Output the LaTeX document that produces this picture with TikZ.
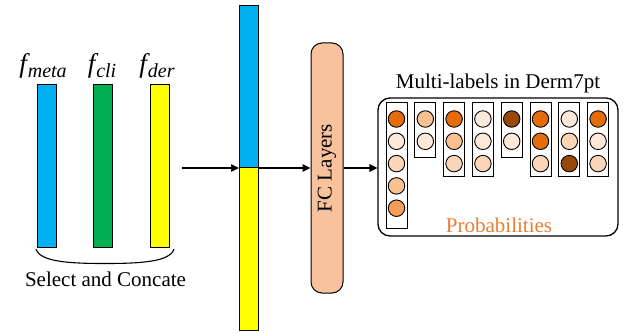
\documentclass[tikz,border=0pt]{standalone}
\usepackage{fontspec}
\setmainfont{Liberation Serif}
\usetikzlibrary{arrows.meta}
\definecolor{cblue}{HTML}{00B0F0}
\definecolor{cgreen}{HTML}{00B050}
\definecolor{cyellow}{HTML}{FFFF00}
\definecolor{cpeach}{HTML}{F7C29C}
\definecolor{corange}{HTML}{ED7D31}
\definecolor{dk}{HTML}{E46C0A}
\definecolor{br}{HTML}{984807}
\definecolor{vl}{HTML}{FDE9D9}
\definecolor{lt}{HTML}{FBD5B5}
\definecolor{lm}{HTML}{FAC090}
\definecolor{md}{HTML}{F59D56}
\newcommand{\feat}[1]{\fontsize{27}{28}\selectfont\itshape f\kern1pt\raisebox{-4.5pt}{\fontsize{20}{22}\selectfont #1}}
\tikzset{
  bar/.style={draw=black, line width=1pt, minimum width=19pt, inner sep=0pt, outer sep=0pt},
  colbox/.style={draw=black, line width=1pt, minimum width=21pt, inner sep=0pt, outer sep=0pt, anchor=north},
  prob/.style={circle, draw=black, line width=0.9pt, minimum size=16.5pt, inner sep=0pt},
  arr/.style={line width=1.4pt, -{Triangle[length=8pt,width=7.5pt]}},
  lbl/.style={font=\fontsize{21}{24}\selectfont, inner sep=0pt},
}
\begin{document}
\begin{tikzpicture}[x=1pt,y=-1pt]
\useasboundingbox (0,0) rectangle (632,334);
% input feature bars
\node[bar, fill=cblue, minimum height=162pt] (meta) at (46.5,166) {};
\node[bar, fill=cgreen, minimum height=162pt] (cli) at (103,166) {};
\node[bar, fill=cyellow, minimum height=162pt] (der) at (159.5,166) {};
\node[lbl, anchor=base] (lmeta) at (43,73) {\feat{meta}};
\node[lbl, anchor=base] (lcli) at (102,73) {\feat{cli}};
\node[lbl, anchor=base] (lder) at (157,73) {\feat{der}};
% brace
\draw[line width=1.1pt] (36,249) .. controls (40,262) and (70,263.5) .. (105,263.5) .. controls (140,263.5) and (170,262) .. (174,249);
\node[lbl, anchor=base] (sel) at (105.5,286) {Select and Concate};
% concatenated bar
\node[bar, fill=cblue, minimum height=162pt] (catA) at (248.5,87) {};
\node[bar, fill=cyellow, minimum height=162pt] (catB) at (248.5,249) {};
% FC layers
\node[draw=black, line width=1pt, fill=cpeach, rounded corners=11pt, minimum width=32pt, minimum height=250pt, inner sep=0pt] (fc) at (327,168) {};
\node[lbl, rotate=90] (fctext) at (fc.center) {FC Layers};
% output box
\node[draw=black, line width=1.3pt, rounded corners=12pt, minimum width=240pt, minimum height=138pt, inner sep=0pt] (box) at (498,167) {};
\node[lbl, anchor=base] (title) at (498,89) {Multi-labels in Derm7pt};
\node[lbl, anchor=base, text=corange] (probtxt) at (499,232) {Probabilities};
% columns
\node[colbox, minimum height=125pt] (k1) at (396.5,103) {};
\node[colbox, minimum height=55pt] (k2) at (425.3,103) {};
\node[colbox, minimum height=74pt] (k3) at (454.1,103) {};
\node[colbox, minimum height=74pt] (k4) at (482.9,103) {};
\node[colbox, minimum height=55pt] (k5) at (511.7,103) {};
\node[colbox, minimum height=74pt] (k6) at (540.5,103) {};
\node[colbox, minimum height=74pt] (k7) at (569.3,103) {};
\node[colbox, minimum height=74pt] (k8) at (598.1,103) {};
% circles
\node[prob, fill=dk] (p11) at (396.5,119) {};
\node[prob, fill=vl] (p12) at (396.5,141.3) {};
\node[prob, fill=lt] (p13) at (396.5,163.6) {};
\node[prob, fill=lm] (p14) at (396.5,185.9) {};
\node[prob, fill=md] (p15) at (396.5,208.2) {};
\node[prob, fill=lm] (p21) at (425.3,119) {};
\node[prob, fill=vl] (p22) at (425.3,141.3) {};
\node[prob, fill=dk] (p31) at (454.1,119) {};
\node[prob, fill=lm] (p32) at (454.1,141.3) {};
\node[prob, fill=lt] (p33) at (454.1,163.6) {};
\node[prob, fill=vl] (p41) at (482.9,119) {};
\node[prob, fill=vl] (p42) at (482.9,141.3) {};
\node[prob, fill=lt] (p43) at (482.9,163.6) {};
\node[prob, fill=br] (p51) at (511.7,119) {};
\node[prob, fill=vl] (p52) at (511.7,141.3) {};
\node[prob, fill=dk] (p61) at (540.5,119) {};
\node[prob, fill=dk] (p62) at (540.5,141.3) {};
\node[prob, fill=lt] (p63) at (540.5,163.6) {};
\node[prob, fill=vl] (p71) at (569.3,119) {};
\node[prob, fill=lt] (p72) at (569.3,141.3) {};
\node[prob, fill=br] (p73) at (569.3,163.6) {};
\node[prob, fill=dk] (p81) at (598.1,119) {};
\node[prob, fill=vl] (p82) at (598.1,141.3) {};
\node[prob, fill=lt] (p83) at (598.1,163.6) {};
% connectors
\coordinate (start) at (182,168);
\draw[arr] (start) -- (catA.south west);
\draw[arr] (catA.south east) -- (fc.west |- catA.south east);
\draw[arr] (fc.east) -- (box.west |- fc.east);
\end{tikzpicture}
\end{document}
